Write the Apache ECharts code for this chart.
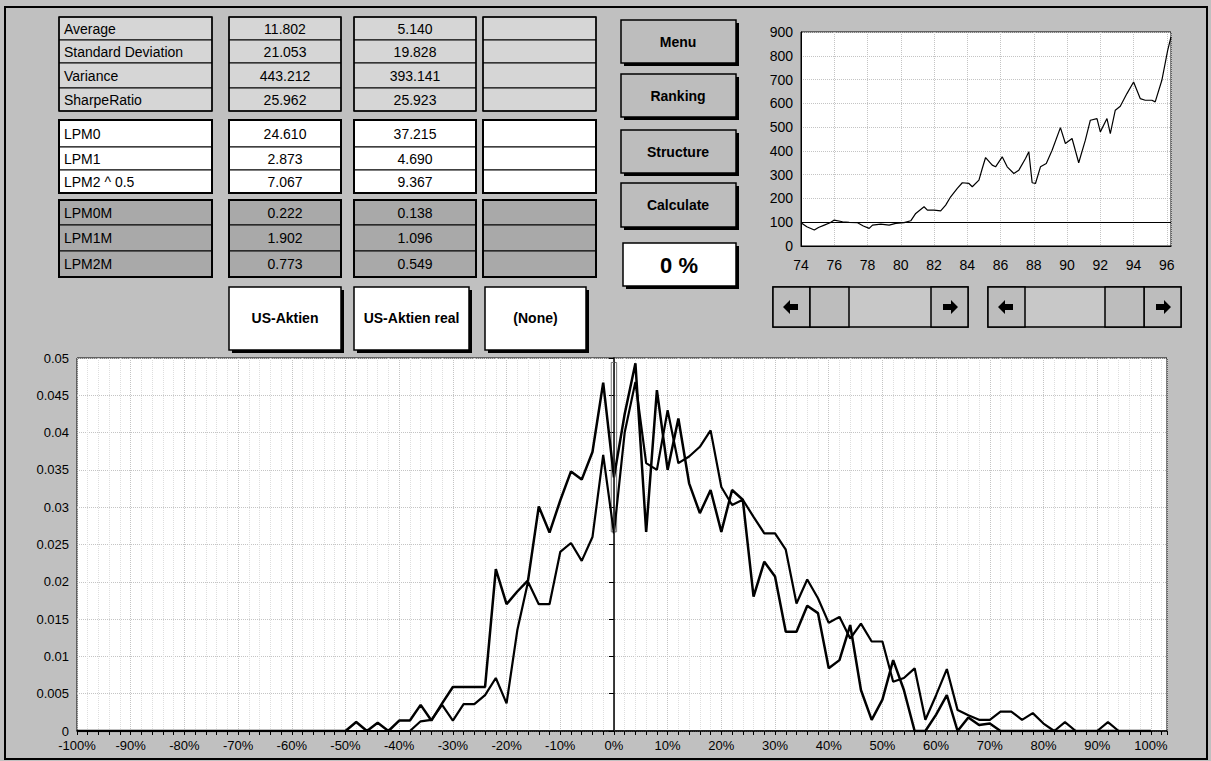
<!DOCTYPE html>
<html><head><meta charset="utf-8">
<script src="https://cdn.jsdelivr.net/npm/echarts@6/dist/echarts.min.js"></script>
<style>html,body{margin:0;padding:0;background:#c0c0c0}#c{width:1211px;height:761px}</style>
</head><body><div id="c"></div>
<script>
// ---------- DATA ----------
const returnBuckets = [-100,-98,-96,-94,-92,-90,-88,-86,-84,-82,-80,-78,-76,-74,-72,-70,-68,-66,-64,-62,-60,-58,-56,-54,-52,
 -50,-48,-46,-44,-42,-40,-38,-36,-34,-32,-30,-28,-26,-24,-22,-20,-18,-16,-14,-12,-10,-8,-6,-4,-2,
 0,2,4,6,8,10,12,14,16,18,20,22,24,26,28,30,32,34,36,38,40,42,44,46,48,50,52,54,56,58,60,62,64,66,68,70,72,
 74,76,78,80,82,84,86,88,90,92,94,96,98,100];
const densityReal = [0,0,0,0,0,0,0,0,0,0,0,0,0,0,0,0,0,0,0,0,0,0,0,0,0,
 0,0.0012,0,0.0011,0,0.0014,0.0014,0.0035,0.0014,0.0037,
 0.0059,0.0059,0.0059,0.0059,0.0217,0.0170,0.0187,0.0202,0.0301,0.0266,
 0.0309,0.0348,0.0337,0.0374,0.0467,0.0340,0.0425,0.0493,0.0267,0.0457,
 0.0350,0.0419,0.0332,0.0292,0.0323,0.0267,0.0323,0.0310,0.0180,0.0227,
 0.0207,0.0133,0.0133,0.0168,0.0158,0.0084,0.0095,0.0142,0.0055,0.0015,
 0.0042,0.0095,0.0055,0,0,0.0022,0.0048,0,0.0018,0.0008,
 0.0010,0,
 0,0,0,0,0,0,0,0,0,0,0,0,0,0];
const densityNominal = [0,0,0,0,0,0,0,0,0,0,0,0,0,0,0,0,0,0,0,0,0,0,0,0,0,0,0,0,0,0,0,0,
 0.0013,0.0015,0.0035,0.0014,0.0036,0.0036,0.0048,0.0071,0.0037,0.0135,
 0.0200,0.0170,0.0170,0.0240,0.0252,0.0228,0.0260,0.0370,0.0265,0.0400,
 0.0468,0.0359,0.0350,0.0430,0.0359,0.0368,0.0381,0.0403,0.0327,0.0303,
 0.0310,0.0287,0.0265,0.0265,0.0243,0.0171,0.0203,0.0178,0.0145,0.0153,
 0.0124,0.0144,0.0120,0.0120,0.0066,0.0071,0.0084,0.0015,0.0048,0.0083,
 0.0028,0.0021,0.0015,0.0015,0.0026,0.0026,0.0015,0.0024,0.0010,0,
 0.0012,0,0,0,0.0012,0,0,0,0];
const thresholdValue = 0;
const thresholdBox = [0.0267, 0.0494];

const indexYears = [74.0,74.35,74.8,75.05,75.4,75.75,76.0,76.5,76.9,77.4,77.75,78.1,78.3,78.8,79.3,79.7,80.2,80.6,80.9,81.4,81.6,82.0,82.4,82.7,83.0,83.4,83.7,84.1,84.3,84.7,84.9,85.1,85.5,85.7,86.1,86.4,86.8,87.1,87.5,87.7,87.9,88.1,88.4,88.75,89.1,89.6,89.9,90.3,90.7,91.1,91.4,91.8,92.0,92.4,92.6,92.9,93.2,93.6,94.0,94.4,94.7,95.1,95.3,95.7,96.05,96.25];
const indexValues = [98,81,67,78,88,98,109,102,99,98,84,74,88,92,88,95,98,106,137,165,151,151,148,172,207,242,266,263,249,277,326,372,340,333,375,333,305,319,368,396,266,263,333,347,403,498,431,452,350,445,529,536,480,536,473,571,588,641,690,620,613,613,606,697,823,879];
const indexBase = 100;

const statLabels = ['Average','Standard Deviation','Variance','SharpeRatio'];
const statCol1 = ['11.802','21.053','443.212','25.962'];
const statCol2 = ['5.140','19.828','393.141','25.923'];
const lpmLabels = ['LPM0','LPM1','LPM2 ^ 0.5'];
const lpmCol1 = ['24.610','2.873','7.067'];
const lpmCol2 = ['37.215','4.690','9.367'];
const lpmmLabels = ['LPM0M','LPM1M','LPM2M'];
const lpmmCol1 = ['0.222','1.902','0.773'];
const lpmmCol2 = ['0.138','1.096','0.549'];
const assetButtons = ['US-Aktien','US-Aktien real','(None)'];
const menuButtons = ['Menu','Ranking','Structure','Calculate'];
const thresholdText = '0 %';

// ---------- UI GRAPHICS ----------
const FONT = '"Liberation Sans", Arial, sans-serif';
const G = [];
function rect(x,y,w,h,fill,stroke,lw,z){G.push({type:'rect',silent:true,z:z||10,shape:{x:x,y:y,width:w,height:h},style:{fill:fill||'none',stroke:stroke||null,lineWidth:lw||0}});}
function txt(x,y,s,opt){opt=opt||{};G.push({type:'text',silent:true,z:20,x:x,y:y,style:{text:s,fill:'#000',font:(opt.bold?'bold ':'')+(opt.size||14)+'px '+FONT,textAlign:opt.align||'left',textVerticalAlign:'middle',align:opt.align||'left',verticalAlign:'middle'}});}
function poly(pts){G.push({type:'polygon',silent:true,z:20,shape:{points:pts},style:{fill:'#000'}});}

// outer frame
rect(5,7,1202,752,'none','#000',2,5);

const cols=[[59,212],[229,341],[354,476],[483,596]];
function group(rows,fill,labels,c1,c2,outerLw,bold){
  cols.forEach(function(c,ci){
    for(let r=0;r<rows.length-1;r++){
      rect(c[0],rows[r],c[1]-c[0],rows[r+1]-rows[r],fill,'#000',1);
    }
    rect(c[0],rows[0],c[1]-c[0],rows[rows.length-1]-rows[0],'none','#000',outerLw);
  });
  for(let r=0;r<rows.length-1;r++){
    const cy=(rows[r]+rows[r+1])/2;
    txt(cols[0][0]+5,cy,labels[r],{bold:bold});
    txt((cols[1][0]+cols[1][1])/2,cy,c1[r],{align:'center',bold:bold});
    txt((cols[2][0]+cols[2][1])/2,cy,c2[r],{align:'center',bold:bold});
  }
}
group([17,40,63,88,111],'#d6d6d6',statLabels,statCol1,statCol2,1.5,false);
group([120,147,170,193],'#ffffff',lpmLabels,lpmCol1,lpmCol2,2,false);
group([200,225,251,277],'#a9a9a9',lpmmLabels,lpmmCol1,lpmmCol2,2,false);

// asset buttons
[[229,112],[354,115],[485,101]].forEach(function(b,i){
  rect(b[0]+3,290,b[1],63,'#000',null,0);
  rect(b[0],287,b[1],63,'#ffffff','#000',1.5);
  txt(b[0]+b[1]/2,318,assetButtons[i],{align:'center',bold:true,size:14});
});
// menu buttons
[[20,43],[74,43],[130,43],[183,44]].forEach(function(b,i){
  rect(624,b[0]+3,115,b[1],'#000',null,0);
  rect(621,b[0],115,b[1],'#bdbdbd','#000',1.5);
  txt(678,b[0]+b[1]/2,menuButtons[i],{align:'center',bold:true,size:14});
});
// threshold box
rect(626,246,113,43,'#000',null,0);
rect(623,243,113,43,'#ffffff','#000',1.5);
txt(679,265,thresholdText,{align:'center',bold:true,size:22});

// scrollbars
function arrowL(cx,cy){poly([[cx-8,cy],[cx-1,cy-7],[cx-1,cy-3],[cx+7,cy-3],[cx+7,cy+3],[cx-1,cy+3],[cx-1,cy+7]]);}
function arrowR(cx,cy){poly([[cx+8,cy],[cx+1,cy-7],[cx+1,cy-3],[cx-7,cy-3],[cx-7,cy+3],[cx+1,cy+3],[cx+1,cy+7]]);}
function scroll(x0,x1,thumb0,thumb1){
  rect(x0,287,x1-x0,40,'#c8c8c8','#000',1.5);
  rect(x0,287,37,40,'#bdbdbd','#000',1.5);
  rect(x1-37,287,37,40,'#bdbdbd','#000',1.5);
  rect(thumb0,287,thumb1-thumb0,40,'#bdbdbd','#000',1.5);
  arrowL(x0+18,307); arrowR(x1-18,307);
}
scroll(773,968,810,849);
scroll(988,1181,1105,1144);

// ---------- CHART ----------
const chart = echarts.init(document.getElementById('c'), null, {renderer:'svg'});
const pairs = (xs, ys) => xs.map((x,i)=>[x, ys[i]]);
const dotted = {type:'dotted', color:'#c4c4c4', width:1};
chart.setOption({
  animation:false,
  backgroundColor:'#c0c0c0',
  textStyle:{fontFamily:FONT},
  graphic:{elements:G},
  grid:[
    {left:77,right:44,top:358,bottom:30,show:true,backgroundColor:'#ffffff',borderColor:'#000',borderWidth:1},
    {left:801,right:40,top:32,bottom:515,show:true,backgroundColor:'#ffffff',borderColor:'#000',borderWidth:1}
  ],
  xAxis:[
    {type:'value',gridIndex:0,min:-100,max:103,interval:10,
     axisLine:{lineStyle:{color:'#000',width:1.5}},
     axisTick:{show:true,length:4,lineStyle:{color:'#000'}},
     minorTick:{show:true,splitNumber:5,length:4,lineStyle:{color:'#000'}},
     axisLabel:{formatter:v=>v+'%',showMaxLabel:false,color:'#000',fontSize:13,margin:8},
     splitLine:{show:true,lineStyle:dotted},
     minorSplitLine:{show:true,lineStyle:{type:'dotted',color:'#dedede',width:1}}},
    {type:'value',gridIndex:1,min:74,max:96.25,interval:2,
     axisLine:{lineStyle:{color:'#000'}},axisTick:{show:false},
     axisLabel:{showMaxLabel:false,color:'#000',fontSize:14,margin:12},
     splitLine:{show:true,lineStyle:dotted}}
  ],
  yAxis:[
    {type:'value',gridIndex:0,min:0,max:0.05,interval:0.005,
     axisLine:{show:true,lineStyle:{color:'#000',width:1.5}},
     axisTick:{show:true,length:5,lineStyle:{color:'#000'}},
     axisLabel:{formatter:v=>String(+v.toFixed(3)),color:'#000',fontSize:13,margin:8},
     splitLine:{show:true,lineStyle:dotted}},
    {type:'value',gridIndex:1,min:0,max:900,interval:100,
     axisLine:{show:true,lineStyle:{color:'#000'}},axisTick:{show:false},
     axisLabel:{color:'#000',fontSize:14,margin:8},
     splitLine:{show:true,lineStyle:dotted}}
  ],
  series:[
    {type:'line',name:'US-Aktien real',xAxisIndex:0,yAxisIndex:0,data:pairs(returnBuckets,densityReal),
     showSymbol:false,lineStyle:{color:'#000',width:2.5},z:4,
     markLine:{silent:true,symbol:'none',label:{show:false},lineStyle:{color:'#333',width:1,type:'solid'},data:[{xAxis:thresholdValue}]},
     markArea:{silent:true,itemStyle:{color:'rgba(0,0,0,0)',borderColor:'#777',borderWidth:1},
       data:[[{xAxis:thresholdValue-0.5,yAxis:thresholdBox[0]},{xAxis:thresholdValue+0.5,yAxis:thresholdBox[1]}]]}},
    {type:'line',name:'US-Aktien',xAxisIndex:0,yAxisIndex:0,data:pairs(returnBuckets,densityNominal),
     showSymbol:false,lineStyle:{color:'#000',width:2.2},z:4},
    {type:'line',name:'Index',xAxisIndex:1,yAxisIndex:1,data:pairs(indexYears,indexValues),
     showSymbol:false,lineStyle:{color:'#000',width:1.2},z:4,
     markLine:{silent:true,symbol:'none',label:{show:false},lineStyle:{color:'#000',width:1.2,type:'solid'},data:[{yAxis:indexBase}]}}
  ]
});
</script></body></html>
